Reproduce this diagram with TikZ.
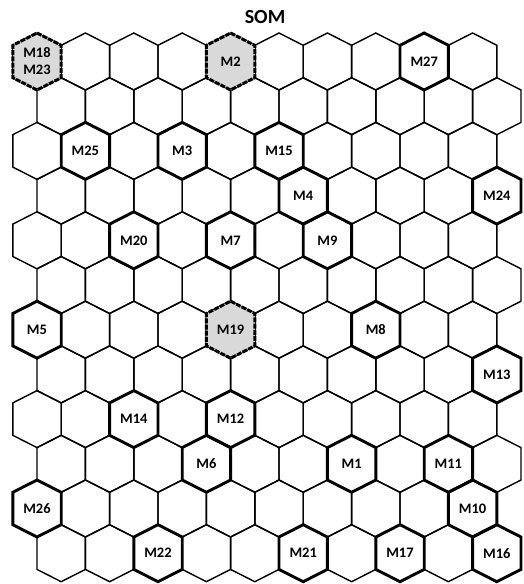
\documentclass[tikz,border=0pt]{standalone}
\usepackage{fontspec}
\setmainfont{Carlito}
\tikzset{
  thinhex/.style={draw=black, line width=1.4pt, line join=miter},
  markhex/.style={draw=black, line width=2.9pt, line join=miter},
  hitHex/.style={draw=black, line width=3pt, dash pattern=on 5pt off 1.2pt, fill=gray!30},
  celllabel/.style={font=\bfseries\fontsize{14.5}{15}\selectfont, inner sep=0pt, align=center},
  hitlabel/.style={font=\bfseries\fontsize{14.5}{14}\selectfont, inner sep=0.5pt, align=center},
  titlelabel/.style={font=\bfseries\fontsize{20}{21}\selectfont, inner sep=0pt}
}
\newcommand{\hexat}[3]{% style, x, y
  \path[#1] (#2,#3) +(0,-28.5) -- +(24.2,-16.2) -- +(24.2,16.2) -- +(0,28.5) -- +(-24.2,16.2) -- +(-24.2,-16.2) -- cycle;}
\begin{document}
\begin{tikzpicture}[x=1pt,y=-1pt]
\useasboundingbox (0,0) rectangle (523,584);
\clip (0,0) rectangle (523,584);
% grid of cells
\foreach \r in {0,...,11}{
  \foreach \c in {0,...,9}{
    \pgfmathsetmacro\hx{37+48.4*\c+24.2*mod(\r,2)}
    \pgfmathsetmacro\hy{61.5+44.7*\r}
    \hexat{thinhex}{\hx}{\hy}
  }
}
% marked cells
\foreach \r/\c/\t in {0/8/M27, 2/1/M25, 2/3/M3, 2/5/M15, 3/5/M4, 3/9/M24,
  4/2/M20, 4/4/M7, 4/6/M9, 6/0/M5, 6/7/M8, 7/9/M13, 8/2/M14, 8/4/M12,
  9/3/M6, 9/6/M1, 9/8/M11, 10/0/M26, 10/9/M10, 11/2/M22, 11/5/M21,
  11/7/M17, 11/9/M16}{
  \pgfmathsetmacro\hx{37+48.4*\c+24.2*mod(\r,2)}
  \pgfmathsetmacro\hy{61.5+44.7*\r}
  \hexat{markhex}{\hx}{\hy}
  \node[celllabel] (\t) at (\hx,\hy) {\t};
}
% highlighted cells
\hexat{hitHex}{37}{61.5}
\node[hitlabel] (M18) at (37,53) {M18};
\node[hitlabel] (M23) at (37,70) {M23};
\hexat{hitHex}{230.6}{61.5}
\node[hitlabel] (M2) at (230.6,61.5) {M2};
\hexat{hitHex}{230.6}{329.7}
\node[hitlabel] (M19) at (230.6,329.7) {M19};
% title
\node[titlelabel] (title) at (265,17) {SOM};
\end{tikzpicture}
\end{document}
